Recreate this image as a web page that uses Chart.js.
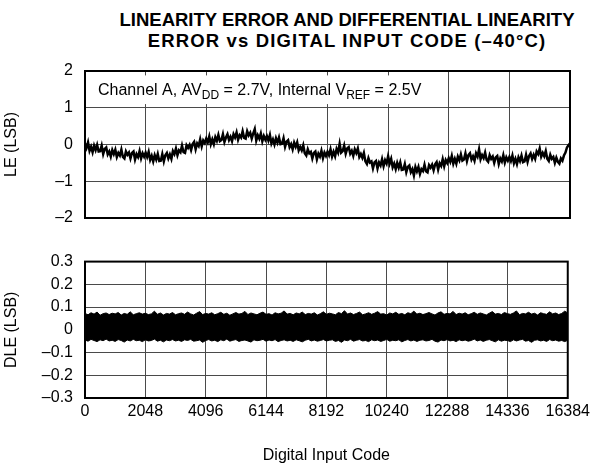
<!DOCTYPE html>
<html>
<head>
<meta charset="utf-8">
<script src="https://cdn.jsdelivr.net/npm/chart.js@4"></script>
<style>
  html, body { margin: 0; padding: 0; background: #fff; }
  #wrap { position: relative; width: 594px; height: 472px; overflow: hidden; }
  #title {
    position: absolute; left: 100px; width: 494px; top: 9px;
    text-align: center; font: bold 18.5px "Liberation Sans", Arial, sans-serif;
    line-height: 21px; color: #000;
  }
  #title .l2 { letter-spacing: 1.15px; }
  canvas { position: absolute; left: 0; }
  #leCanvas { top: 0; }
  #dleCanvas { top: 240px; }
</style>
</head>
<body>
<div id="wrap">
  <div id="title">LINEARITY ERROR AND DIFFERENTIAL LINEARITY<br><span class="l2">ERROR vs DIGITAL INPUT CODE (–40°C)</span></div>
  <canvas id="leCanvas" width="594" height="240"></canvas>
  <canvas id="dleCanvas" width="594" height="232"></canvas>
</div>
<script>
// Digital input codes: samples evenly spread across the full 14-bit range
const codeMax = 16384;
const leStep = 51.2;     // 321 LE samples
const dleStep = 102.4;   // 161 DLE samples
const codeTicks = [0, 2048, 4096, 6144, 8192, 10240, 12288, 14336, 16384];

// Linearity error (LSB) at each sampled code
const leValues = [
  0.03, -0.09, 0.06, -0.17, -0.06, -0.21, -0.03, -0.15, -0.01, -0.19,
  -0.18, -0.03, -0.26, -0.12, -0.08, -0.27, -0.19, -0.33, -0.15, -0.26,
  -0.14, -0.34, -0.23, -0.30, -0.14, -0.34, -0.38, -0.19, -0.28, -0.22,
  -0.38, -0.23, -0.19, -0.41, -0.26, -0.34, -0.18, -0.38, -0.24, -0.33,
  -0.22, -0.34, -0.20, -0.42, -0.31, -0.46, -0.29, -0.41, -0.26, -0.45,
  -0.44, -0.26, -0.46, -0.29, -0.23, -0.38, -0.27, -0.39, -0.18, -0.26,
  -0.11, -0.29, -0.16, -0.21, -0.03, -0.21, -0.23, -0.02, -0.09, -0.01,
  -0.15, 0.01, 0.07, -0.13, 0.03, -0.04, 0.14, -0.05, 0.11, 0.04,
  0.16, 0.06, 0.22, 0.01, 0.14, 0.01, 0.20, 0.10, 0.26, 0.09,
  0.12, 0.28, 0.07, 0.19, 0.28, 0.12, 0.21, 0.09, 0.28, 0.19,
  0.33, 0.13, 0.25, 0.19, 0.36, 0.18, 0.16, 0.36, 0.25, 0.32,
  0.16, 0.30, 0.42, 0.11, 0.25, 0.16, 0.30, 0.09, 0.23, 0.13,
  0.23, 0.11, 0.26, 0.03, 0.14, 0.00, 0.17, 0.05, 0.19, 0.01,
  0.02, 0.17, -0.06, 0.08, 0.12, -0.07, 0.01, -0.13, 0.05, -0.06,
  0.06, -0.16, -0.07, -0.16, -0.02, -0.24, -0.30, -0.13, -0.24, -0.20,
  -0.38, -0.23, -0.19, -0.40, -0.25, -0.33, -0.17, -0.37, -0.22, -0.31,
  -0.20, -0.29, -0.13, -0.33, -0.20, -0.32, -0.12, -0.22, 0.02, -0.22,
  -0.18, -0.03, -0.25, -0.11, -0.07, -0.25, -0.17, -0.31, -0.13, -0.23,
  -0.11, -0.34, -0.26, -0.36, -0.23, -0.46, -0.53, -0.37, -0.49, -0.46,
  -0.65, -0.49, -0.45, -0.65, -0.49, -0.57, -0.40, -0.59, -0.43, -0.52,
  -0.32, -0.52, -0.39, -0.62, -0.52, -0.67, -0.50, -0.63, -0.49, -0.69,
  -0.68, -0.53, -0.75, -0.61, -0.57, -0.75, -0.67, -0.84, -0.61, -0.73,
  -0.61, -0.80, -0.67, -0.72, -0.55, -0.73, -0.76, -0.56, -0.63, -0.55,
  -0.70, -0.54, -0.48, -0.68, -0.51, -0.58, -0.40, -0.59, -0.42, -0.50,
  -0.37, -0.47, -0.31, -0.52, -0.39, -0.52, -0.33, -0.43, -0.27, -0.44,
  -0.41, -0.24, -0.45, -0.29, -0.24, -0.41, -0.32, -0.44, -0.24, -0.33,
  -0.13, -0.40, -0.29, -0.37, -0.22, -0.42, -0.47, -0.29, -0.39, -0.33,
  -0.50, -0.35, -0.31, -0.53, -0.38, -0.46, -0.29, -0.49, -0.35, -0.44,
  -0.34, -0.45, -0.30, -0.51, -0.39, -0.53, -0.35, -0.45, -0.30, -0.48,
  -0.46, -0.28, -0.47, -0.31, -0.24, -0.39, -0.28, -0.39, -0.19, -0.26,
  -0.11, -0.33, -0.23, -0.32, -0.18, -0.39, -0.45, -0.28, -0.39, -0.34,
  -0.50, -0.36, -0.47, -0.52, -0.38, -0.44, -0.30, -0.22, -0.08, -0.02,
  0.03
];

// Differential linearity error (LSB): upper and lower envelope of the code-to-code spread
const dleUpper = [
  0.072,0.066,0.075,0.069,0.078,0.064,0.071,0.074,0.067,0.073,
  0.070,0.076,0.065,0.072,0.068,0.079,0.066,0.071,0.075,0.069,
  0.073,0.067,0.070,0.082,0.068,0.074,0.065,0.072,0.069,0.076,
  0.066,0.071,0.074,0.068,0.078,0.070,0.065,0.073,0.080,0.067,
  0.072,0.069,0.075,0.066,0.071,0.077,0.068,0.073,0.064,0.070,
  0.076,0.069,0.072,0.081,0.067,0.074,0.070,0.066,0.073,0.078,
  0.068,0.071,0.065,0.075,0.070,0.073,0.083,0.069,0.072,0.066,
  0.074,0.070,0.078,0.067,0.072,0.069,0.075,0.065,0.071,0.079,
  0.068,0.073,0.070,0.066,0.076,0.071,0.084,0.069,0.074,0.067,
  0.072,0.078,0.066,0.070,0.075,0.068,0.073,0.080,0.069,0.071,
  0.065,0.074,0.070,0.077,0.068,0.072,0.066,0.075,0.071,0.082,
  0.069,0.073,0.067,0.071,0.076,0.070,0.065,0.074,0.079,0.068,
  0.072,0.070,0.081,0.067,0.073,0.069,0.075,0.066,0.071,0.077,
  0.068,0.074,0.070,0.065,0.073,0.080,0.069,0.072,0.067,0.076,
  0.071,0.068,0.074,0.083,0.066,0.072,0.070,0.077,0.069,0.073,
  0.065,0.075,0.071,0.068,0.079,0.070,0.074,0.067,0.072,0.082,
  0.074
];
const dleLower = [
  -0.045,-0.050,-0.042,-0.047,-0.052,-0.044,-0.048,-0.041,-0.049,-0.046,
  -0.051,-0.043,-0.047,-0.054,-0.045,-0.049,-0.042,-0.048,-0.046,-0.052,
  -0.044,-0.049,-0.047,-0.041,-0.050,-0.046,-0.053,-0.045,-0.048,-0.043,
  -0.049,-0.046,-0.051,-0.044,-0.047,-0.042,-0.050,-0.048,-0.045,-0.055,
  -0.047,-0.043,-0.049,-0.046,-0.052,-0.044,-0.048,-0.041,-0.050,-0.046,
  -0.043,-0.051,-0.047,-0.045,-0.049,-0.054,-0.044,-0.048,-0.046,-0.042,
  -0.050,-0.045,-0.048,-0.043,-0.052,-0.047,-0.044,-0.049,-0.046,-0.051,
  -0.044,-0.048,-0.053,-0.046,-0.042,-0.049,-0.045,-0.050,-0.047,-0.043,
  -0.049,-0.046,-0.044,-0.051,-0.047,-0.055,-0.045,-0.048,-0.042,-0.050,
  -0.046,-0.043,-0.049,-0.047,-0.052,-0.044,-0.048,-0.045,-0.051,-0.047,
  -0.042,-0.050,-0.046,-0.048,-0.044,-0.053,-0.047,-0.043,-0.049,-0.045,
  -0.051,-0.046,-0.044,-0.049,-0.047,-0.042,-0.050,-0.054,-0.045,-0.048,
  -0.043,-0.049,-0.046,-0.052,-0.044,-0.048,-0.045,-0.050,-0.047,-0.041,
  -0.049,-0.045,-0.051,-0.046,-0.043,-0.048,-0.053,-0.044,-0.050,-0.046,
  -0.047,-0.052,-0.044,-0.049,-0.045,-0.042,-0.050,-0.047,-0.055,-0.046,
  -0.044,-0.049,-0.046,-0.051,-0.043,-0.048,-0.045,-0.050,-0.047,-0.052,
  -0.046
];

const FONT = '"Liberation Sans", Arial, sans-serif';
const GRID = '#4a4a4a';

const toPoints = (vals, step) => vals.map((v, i) => ({ x: i * step, y: v }));
const fmtSigned = (v, digits) => {
  if (Math.abs(v) < 1e-9) return '0';
  const s = Math.abs(v).toFixed(digits);
  return v < 0 ? '–' + s : s;
};

// Heavy black frame round the plot area
const framePlugin = {
  id: 'frame',
  afterDraw(chart) {
    const { ctx, chartArea: a } = chart;
    ctx.save();
    ctx.strokeStyle = '#000';
    ctx.lineWidth = 2;
    ctx.strokeRect(a.left, a.top, a.right - a.left, a.bottom - a.top);
    ctx.restore();
  }
};

// Condition label in the upper band of the LE plot (with subscripts)
const conditionLabel = {
  id: 'conditionLabel',
  beforeDatasetsDraw(chart) {
    const { ctx, scales: { x, y } } = chart;
    const left = x.getPixelForValue(0) + 1;
    const right = x.getPixelForValue(12288) - 1;
    const top = y.getPixelForValue(1.88);
    const bottom = y.getPixelForValue(1.1);
    ctx.save();
    ctx.fillStyle = '#fff';
    ctx.fillRect(left, top, right - left, bottom - top);
    const parts = [
      { t: 'Channel A, AV' }, { t: 'DD', sub: true },
      { t: ' = 2.7V, Internal V' }, { t: 'REF', sub: true },
      { t: ' = 2.5V' }
    ];
    let px = left + 12;
    const base = y.getPixelForValue(1.36);
    ctx.fillStyle = '#000';
    ctx.textBaseline = 'alphabetic';
    for (const p of parts) {
      ctx.font = (p.sub ? '12px ' : '16px ') + FONT;
      ctx.fillText(p.t, px, p.sub ? base + 4 : base);
      px += ctx.measureText(p.t).width;
    }
    ctx.restore();
  }
};

const xScale = (showLabels) => ({
  type: 'linear',
  min: 0,
  max: codeMax,
  afterBuildTicks: s => { s.ticks = codeTicks.map(v => ({ value: v })); },
  grid: { color: GRID, lineWidth: 1, drawTicks: false },
  border: { display: false },
  ticks: {
    display: showLabels,
    padding: 4,
    color: '#000',
    font: { family: FONT, size: 16 },
    maxRotation: 0,
    callback: v => String(v)
  },
  title: showLabels ? {
    display: true, text: 'Digital Input Code', color: '#000',
    font: { family: FONT, size: 16 }, padding: { top: 0, bottom: 7 }
  } : { display: false },
  afterFit: s => { s.height = showLabels ? 74 : 0; }
});

const yScale = (min, max, step, digits, label) => ({
  min, max,
  ticks: {
    stepSize: step,
    padding: 12,
    color: '#000',
    font: { family: FONT, size: 16 },
    callback: v => fmtSigned(v, digits)
  },
  grid: { color: GRID, lineWidth: 1, drawTicks: false },
  border: { display: false },
  title: {
    display: true, text: label, color: '#000',
    font: { family: FONT, size: 16 }, padding: { top: 2, bottom: 0 }
  },
  afterFit: s => { s.width = 85; }
});

const common = {
  responsive: false,
  animation: false,
  plugins: { legend: { display: false }, tooltip: { enabled: false } },
  elements: { point: { radius: 0 }, line: { tension: 0 } }
};

new Chart(document.getElementById('leCanvas'), {
  type: 'line',
  data: {
    datasets: [{
      data: toPoints(leValues, leStep),
      borderColor: '#000',
      borderWidth: 2.5,
      fill: false
    }]
  },
  options: {
    ...common,
    layout: { padding: { top: 71, right: 24, bottom: 22, left: 0 } },
    scales: {
      x: xScale(false),
      y: yScale(-2, 2, 1, 0, 'LE (LSB)')
    }
  },
  plugins: [conditionLabel, framePlugin]
});

new Chart(document.getElementById('dleCanvas'), {
  type: 'line',
  data: {
    datasets: [
      { data: toPoints(dleUpper, dleStep), borderColor: '#000', borderWidth: 1, fill: false },
      { data: toPoints(dleLower, dleStep), borderColor: '#000', borderWidth: 1,
        backgroundColor: '#000', fill: '-1' }
    ]
  },
  options: {
    ...common,
    layout: { padding: { top: 14, right: 24, bottom: 0, left: 0 } },
    scales: {
      x: xScale(true),
      y: yScale(-0.3, 0.3, 0.1, 1, 'DLE (LSB)')
    }
  },
  plugins: [framePlugin]
});
</script>
</body>
</html>
